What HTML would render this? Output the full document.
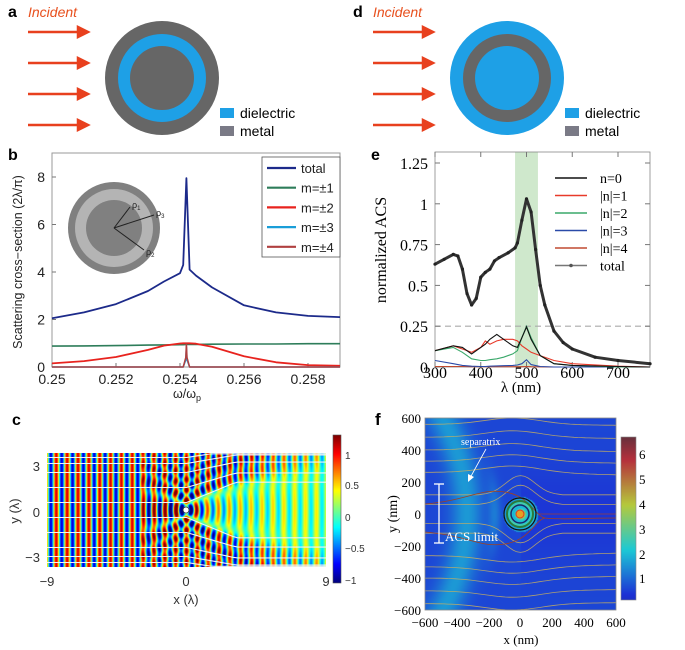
<!DOCTYPE html>
<html><head><meta charset="utf-8"><style>
html,body{margin:0;padding:0;background:#fff;}
#wrap{position:relative;width:685px;height:650px;overflow:hidden;}
canvas{position:absolute;}
svg{position:absolute;left:0;top:0;}
.s{font-family:"Liberation Sans",sans-serif;}
.r{font-family:"Liberation Serif",serif;}
</style></head><body>
<div id="wrap">
<canvas id="cc" width="279" height="114" style="left:47px;top:453px"></canvas>
<canvas id="ccb" width="8" height="148" style="left:333px;top:435px"></canvas>
<canvas id="cf" width="191" height="192" style="left:425px;top:418px"></canvas>
<canvas id="cfb" width="15" height="163" style="left:621px;top:437px"></canvas>
<svg id="sv" width="685" height="650" xmlns="http://www.w3.org/2000/svg">
<g>
<text x="8" y="17" class="s" font-size="16" font-weight="bold">a</text>
<text x="28" y="17" class="s" font-size="14" font-style="italic" fill="#e8501e">Incident</text>
<g fill="#e8401e" stroke="#e8401e" stroke-width="2.5">
<line x1="28" y1="32" x2="80" y2="32"/><polygon points="88,32 78,27 78,37"/>
<line x1="28" y1="63" x2="80" y2="63"/><polygon points="88,63 78,58 78,68"/>
<line x1="28" y1="94" x2="80" y2="94"/><polygon points="88,94 78,89 78,99"/>
<line x1="28" y1="125" x2="80" y2="125"/><polygon points="88,125 78,120 78,130"/>
</g>
<circle cx="162" cy="78" r="57" fill="#666"/>
<circle cx="162" cy="78" r="44" fill="#1ea0e6"/>
<circle cx="162" cy="78" r="32" fill="#666"/>
<rect x="220" y="108" width="14" height="10" fill="#1ea0e6"/>
<text x="240" y="118" class="s" font-size="14">dielectric</text>
<rect x="220" y="126" width="14" height="10" fill="#7a7a86"/>
<text x="240" y="136" class="s" font-size="14">metal</text>
</g>
<g>
<text x="353" y="17" class="s" font-size="16" font-weight="bold">d</text>
<text x="373" y="17" class="s" font-size="14" font-style="italic" fill="#e8501e">Incident</text>
<g fill="#e8401e" stroke="#e8401e" stroke-width="2.5">
<line x1="373" y1="32" x2="425" y2="32"/><polygon points="433,32 423,27 423,37"/>
<line x1="373" y1="63" x2="425" y2="63"/><polygon points="433,63 423,58 423,68"/>
<line x1="373" y1="94" x2="425" y2="94"/><polygon points="433,94 423,89 423,99"/>
<line x1="373" y1="125" x2="425" y2="125"/><polygon points="433,125 423,120 423,130"/>
</g>
<circle cx="507" cy="78" r="57" fill="#1ea0e6"/>
<circle cx="507" cy="78" r="44" fill="#666"/>
<circle cx="507" cy="78" r="32" fill="#1ea0e6"/>
<rect x="565" y="108" width="14" height="10" fill="#1ea0e6"/>
<text x="585" y="118" class="s" font-size="14">dielectric</text>
<rect x="565" y="126" width="14" height="10" fill="#7a7a86"/>
<text x="585" y="136" class="s" font-size="14">metal</text>
</g>
<g id="pb">
<text x="8" y="160" class="s" font-size="16" font-weight="bold">b</text>
<rect x="52" y="153" width="288" height="214" fill="none" stroke="#999"/>
<circle cx="114" cy="228" r="46" fill="#808080"/>
<circle cx="114" cy="228" r="39" fill="#b4b4b4"/>
<circle cx="114" cy="228" r="28" fill="#808080"/>
<g stroke="#222" stroke-width="1" fill="#222">
<line x1="114" y1="228" x2="130" y2="207"/><line x1="114" y1="228" x2="154" y2="215"/><line x1="114" y1="228" x2="144" y2="250"/>
</g>
<text x="132" y="208" class="s" font-size="9" fill="#222">ρ<tspan font-size="6" dy="2">1</tspan></text>
<text x="156" y="216" class="s" font-size="9" fill="#222">ρ<tspan font-size="6" dy="2">3</tspan></text>
<text x="146" y="255" class="s" font-size="9" fill="#222">ρ<tspan font-size="6" dy="2">2</tspan></text>
<text transform="translate(22,262) rotate(-90)" text-anchor="middle" class="s" font-size="12.5" fill="#222">Scattering cross−section (2λ/π)</text>
<text x="187" y="398" text-anchor="middle" class="s" font-size="12.5" fill="#222">ω/ω<tspan font-size="9" dy="3">p</tspan></text>
</g>
<g id="pe">
<text x="371" y="160" class="s" font-size="16" font-weight="bold">e</text>
<text transform="translate(386,250) rotate(-90)" text-anchor="middle" class="r" font-size="16">normalized ACS</text>
<text x="521" y="392" text-anchor="middle" class="r" font-size="15">λ (nm)</text>
</g>
<g id="pc">
<text x="12" y="425" class="s" font-size="16" font-weight="bold">c</text>
<text transform="translate(19,511) rotate(-90)" text-anchor="middle" class="s" font-size="13" fill="#333">y (λ)</text>
<text x="186" y="604" text-anchor="middle" class="s" font-size="13" fill="#333">x (λ)</text>
<g class="s" font-size="13" fill="#333" text-anchor="end">
<text x="40" y="471">3</text><text x="40" y="517">0</text><text x="40" y="562">−3</text></g>
<g class="s" font-size="13" fill="#333" text-anchor="middle">
<text x="47" y="586">−9</text><text x="186" y="586">0</text><text x="326" y="586">9</text></g>
<g class="s" font-size="10" fill="#333">
<text x="345" y="459">1</text><text x="345" y="489">0.5</text><text x="345" y="521">0</text><text x="345" y="552">−0.5</text><text x="345" y="584">−1</text></g>
<rect x="333" y="435" width="8" height="148" fill="none" stroke="#555" stroke-width="0.6"/>
<g id="slc" fill="none" stroke="#f4f4f4" stroke-width="1.1"></g>
<circle cx="186" cy="510" r="3" fill="#fff" stroke="#333" stroke-width="0.8"/>
</g>
<g id="pf">
<text x="375" y="425" class="s" font-size="17" font-weight="bold">f</text>
<g id="slf" fill="none" stroke="#c8b060" stroke-width="0.8" opacity="0.85"></g>
<path d="M425,504 C470,500 480,488 505,492 C530,496 535,516 545,518 C560,520 580,518 616,518" fill="none" stroke="#a04020" stroke-width="0.8"/>
<path d="M425,532 C470,536 480,548 505,544 C530,540 535,520 545,518" fill="none" stroke="#a04020" stroke-width="0.8"/>
<g fill="none">
<circle cx="520" cy="514" r="16" stroke="#111" stroke-width="1.2"/>
<circle cx="520" cy="514" r="13" stroke="#2a7a3a" stroke-width="2"/>
<circle cx="520" cy="514" r="9" stroke="#1a2a6a" stroke-width="1.5"/>
<circle cx="520" cy="514" r="4" fill="#e8a020" stroke="#e03a20"/>
</g>
<line x1="439" y1="484" x2="439" y2="543" stroke="#fff" stroke-width="1.3"/>
<line x1="434" y1="484" x2="444" y2="484" stroke="#fff" stroke-width="1.3"/>
<line x1="434" y1="543" x2="444" y2="543" stroke="#fff" stroke-width="1.3"/>
<text x="445" y="541" class="r" font-size="13" fill="#fff">ACS limit</text>
<text x="461" y="445" class="r" font-size="10" fill="#fff">separatrix</text>
<line x1="486" y1="449" x2="470" y2="478" stroke="#fff" stroke-width="0.8"/><polygon points="468,482 468,474 474,477" fill="#fff"/>
<rect x="425" y="418" width="191" height="192" fill="none" stroke="#888" stroke-width="0.8"/>
<g class="r" font-size="13" text-anchor="end">
<text x="421" y="423">600</text><text x="421" y="455">400</text><text x="421" y="487">200</text><text x="421" y="519">0</text><text x="421" y="551">−200</text><text x="421" y="583">−400</text><text x="421" y="615">−600</text></g>
<g class="r" font-size="13" text-anchor="middle">
<text x="425" y="627">−600</text><text x="457" y="627">−400</text><text x="489" y="627">−200</text><text x="520" y="627">0</text><text x="552" y="627">200</text><text x="584" y="627">400</text><text x="616" y="627">600</text></g>
<text transform="translate(397,514) rotate(-90)" text-anchor="middle" class="r" font-size="14">y (nm)</text>
<text x="521" y="644" text-anchor="middle" class="r" font-size="13">x (nm)</text>
<g class="r" font-size="13">
<text x="639" y="459">6</text><text x="639" y="484">5</text><text x="639" y="509">4</text><text x="639" y="534">3</text><text x="639" y="559">2</text><text x="639" y="583">1</text></g>
<rect x="621" y="437" width="15" height="163" fill="none" stroke="#888" stroke-width="0.6"/>
</g>
</svg>
</div>
<script>
// ---- panel b data ----
const bOmega=[0.25,0.251,0.252,0.253,0.2535,0.254,0.2541,0.2542,0.2543,0.2545,0.255,0.256,0.257,0.258,0.259];
const bTotal=[2.05,2.3,2.65,3.2,3.6,3.95,4.3,7.95,4.1,3.85,3.35,2.6,2.3,2.15,2.1];
const bM1=[0.88,0.89,0.9,0.92,0.93,0.94,0.94,0.95,0.95,0.95,0.96,0.97,0.97,0.98,0.98];
const bM2=[0.15,0.25,0.42,0.72,0.9,0.99,1.0,1.0,1.0,0.98,0.85,0.45,0.2,0.08,0.05];
const bM3Omega=[0.25,0.2541,0.25418,0.2542,0.25422,0.2543,0.259];
const bM3=[0,0,0.3,0.85,0.3,0,0];
const bM4=[0,0,0.4,0.98,0.4,0,0];
const bYTicks=[0,2,4,6,8];
const bXTicks=[0.25,0.252,0.254,0.256,0.258];
const bLegend=["total","m=±1","m=±2","m=±3","m=±4"];
// ---- panel e data ----
const eLam=[300,320,340,350,360,370,380,390,400,410,420,430,440,460,475,480,490,500,510,520,530,540,560,580,600,650,700,770];
const eTotal=[0.63,0.66,0.69,0.68,0.6,0.45,0.38,0.42,0.55,0.58,0.6,0.65,0.67,0.7,0.73,0.76,0.9,1.03,0.95,0.72,0.5,0.38,0.22,0.15,0.11,0.06,0.04,0.02];
const eLamN=[300,340,360,380,400,410,420,435,450,470,480,490,500,510,530,560,600,700,770];
const eN0=[0.1,0.13,0.12,0.08,0.12,0.14,0.17,0.2,0.17,0.13,0.12,0.18,0.245,0.17,0.07,0.02,0.01,0.003,0];
const eN1=[0.1,0.13,0.11,0.09,0.12,0.16,0.14,0.16,0.17,0.17,0.16,0.13,0.11,0.09,0.07,0.04,0.02,0.005,0];
const eN2=[0.1,0.12,0.09,0.05,0.04,0.04,0.045,0.05,0.06,0.08,0.1,0.18,0.25,0.18,0.07,0.02,0.01,0,0];
const eN3=[0.04,0.02,0.01,0.005,0.003,0.003,0.005,0.007,0.008,0.01,0.012,0.02,0.045,0.015,0.003,0,0,0,0];
const eN4=[0.003,0.003,0.003,0.002,0.002,0.002,0.002,0.002,0.002,0.002,0.002,0.002,0.003,0.002,0.001,0,0,0,0];
const eYTicks=[0,0.25,0.5,0.75,1,1.25];
const eYLabels=["0","0.25","0.5","0.75","1","1.25"];
const eXTicks=[300,400,500,600,700];
const eBand=[475,525];
const eLegend=["n=0","|n|=1","|n|=2","|n|=3","|n|=4","total"];

const NS="http://www.w3.org/2000/svg";
function mk(parent,tag,attrs,txt){const e=document.createElementNS(NS,tag);for(const k in attrs)e.setAttribute(k,attrs[k]);if(txt!==undefined)e.textContent=txt;parent.appendChild(e);return e;}
function pathOf(xs,ys,fx,fy){return xs.map((x,i)=>(i?"L":"M")+fx(x).toFixed(1)+","+fy(ys[i]).toFixed(1)).join(" ");}

const pb=document.getElementById('pb');
const bx=v=>52+(v-0.25)/0.009*288, by=v=>367-v*23.75;
bYTicks.forEach(t=>{const e=mk(pb,'text',{x:45,y:by(t)+5,'text-anchor':'end','font-size':14,'class':'s',fill:'#222'},String(t));


mk(pb,'line',{x1:52,x2:56,y1:by(t),y2:by(t),stroke:'#777'});});
bXTicks.forEach(t=>{const e=mk(pb,'text',{x:bx(t),y:384,'text-anchor':'middle','font-size':14,'class':'s',fill:'#222'},String(t));


mk(pb,'line',{x1:bx(t),x2:bx(t),y1:367,y2:363,stroke:'#777'});});
const bSeries=[[bOmega,bM1,'#2e7d5a',1.6,'m1-line'],[bOmega,bM2,'#e8231e',1.8,'m2-line'],[bM3Omega,bM3,'#1a9ed8',1.5,'m3-line'],[bM3Omega,bM4,'#b04040',1.5,'m4-line'],[bOmega,bTotal,'#1c2a8a',1.8,'total-line']];
bSeries.forEach(s=>{const p=mk(pb,'path',{d:pathOf(s[0],s[1],bx,by),fill:'none',stroke:s[2],'stroke-width':s[3],'stroke-linejoin':'round'});

});
mk(pb,'rect',{x:262,y:157,width:78,height:100,fill:'#fff',stroke:'#555','stroke-width':0.8});
const bLegCol=['#1c2a8a','#2e7d5a','#e8231e','#1a9ed8','#b04040'];
bLegend.forEach((l,i)=>{const y=168+i*19.7;mk(pb,'line',{x1:267,x2:296,y1:y,y2:y,stroke:bLegCol[i],'stroke-width':2.2});
const t=mk(pb,'text',{x:301,y:y+5,'font-size':13,'class':'s',fill:'#222'},l);

});

const pe=document.getElementById('pe');
const ex=v=>435+(v-300)*0.4575, ey=v=>367-v*163.2;
mk(pe,'rect',{x:ex(eBand[0]),y:152,width:ex(eBand[1])-ex(eBand[0]),height:215,fill:'#cfe8cc'});
mk(pe,'rect',{x:435,y:152,width:215,height:215,fill:'none',stroke:'#888','stroke-width':0.8});
mk(pe,'line',{x1:435,x2:650,y1:ey(0.25),y2:ey(0.25),stroke:'#aaa','stroke-dasharray':'6,4','stroke-width':1.2});
eYTicks.forEach((t,i)=>{const e=mk(pe,'text',{x:428,y:ey(t)+6,'text-anchor':'end','font-size':16,'class':'r'},eYLabels[i]);


mk(pe,'line',{x1:435,x2:440,y1:ey(t),y2:ey(t),stroke:'#777'});mk(pe,'line',{x1:645,x2:650,y1:ey(t),y2:ey(t),stroke:'#777'});});
eXTicks.forEach(t=>{const e=mk(pe,'text',{x:ex(t),y:378,'text-anchor':'middle','font-size':16,'class':'r'},String(t));


mk(pe,'line',{x1:ex(t),x2:ex(t),y1:367,y2:362,stroke:'#777'});mk(pe,'line',{x1:ex(t),x2:ex(t),y1:152,y2:157,stroke:'#777'});});
const eSer=[[eN4,'#c04a30','n4-line'],[eN3,'#2a4aa8','n3-line'],[eN1,'#e83a2a','n1-line'],[eN2,'#3aa86a','n2-line'],[eN0,'#111','n0-line']];
eSer.forEach(s=>{const p=mk(pe,'path',{d:pathOf(eLamN,s[0],ex,ey),fill:'none',stroke:s[1],'stroke-width':1.1});

});
const tp=mk(pe,'path',{d:pathOf(eLam,eTotal,ex,ey),fill:'none',stroke:'#333','stroke-width':3,'stroke-linejoin':'round'});


eLam.forEach((l,i)=>{const c=mk(pe,'circle',{cx:ex(l),cy:ey(eTotal[i]),r:1.6,fill:'#222'});

});
const eLegCol=['#111','#e83a2a','#3aa86a','#2a4aa8','#c04a30','#777'];
eLegend.forEach((l,i)=>{const y=178+i*17.5;mk(pe,'line',{x1:555,x2:587,y1:y,y2:y,stroke:eLegCol[i],'stroke-width':1.4});
if(i==5)mk(pe,'circle',{cx:571,cy:y,r:1.8,fill:'#555'});
const t=mk(pe,'text',{x:600,y:y+5,'font-size':14,'class':'r'},l);

});

function jet(v){v=Math.max(0,Math.min(1,v));const c=x=>Math.round(255*Math.max(0,Math.min(1,1.5-Math.abs(x))));return[c(4*v-3),c(4*v-2),c(4*v-1)];}
function soft(v){const c=jet(v);return [Math.round(0.6*c[0]+0.4*70),Math.round(0.6*c[1]+0.4*120),Math.round(0.6*c[2]+0.4*150)];}
(function(){const cv=document.getElementById('cc'),ctx=cv.getContext('2d'),W=279,H=114,img=ctx.createImageData(W,H);
const k=2*Math.PI/0.7;
for(let j=0;j<H;j++)for(let i=0;i<W;i++){const x=-9+18*(i+0.5)/W,y=3.8-7.6*(j+0.5)/H;const r=Math.sqrt(x*x+y*y)+0.01;
let sh=0;if(x>0){const w=0.6+0.45*x;sh=Math.exp(-Math.pow(y/w,4))*Math.min(1,x/1.2);}
const sc=0.8*Math.cos(k*r+0.4)/Math.sqrt(r+0.3)*Math.exp(-r/5)*(x>-3?1:0);
let f=Math.cos(k*x)*(1-0.7*sh)+sc;
const c=jet((f+1.2)/2.4);const p=(j*W+i)*4;img.data[p]=c[0];img.data[p+1]=c[1];img.data[p+2]=c[2];img.data[p+3]=255;}
ctx.putImageData(img,0,0);
const b=document.getElementById('ccb').getContext('2d');for(let j=0;j<148;j++){const c=jet(1-j/147);b.fillStyle=`rgb(${c})`;b.fillRect(0,j,8,1);}
const g=document.getElementById('slc');[-3.5,-3.1,-2.5,-1.5,-0.5,0.5,1.5,2.5,3.1,3.5].forEach(y0=>{let d='';for(let i=0;i<=60;i++){const x=-9+18*i/60;const defl=x>0?Math.sign(y0)*Math.min(1.6,0.5*x)*Math.exp(-Math.abs(y0)/3):0;const y=Math.max(-3.75,Math.min(3.75,y0+defl));d+=(i?'L':'M')+(47+279*(x+9)/18).toFixed(1)+','+(453+114*(3.8-y)/7.6).toFixed(1);}mk(g,'path',{d:d});});
})();
(function(){const cv=document.getElementById('cf'),ctx=cv.getContext('2d'),W=191,H=192,img=ctx.createImageData(W,H);
for(let j=0;j<H;j++)for(let i=0;i<W;i++){const x=-600+1200*i/W,y=600-1200*j/H;const r=Math.sqrt(x*x+y*y);
let v=0.6;const d=Math.sqrt((x+1605)*(x+1605)+y*y);v+=1.0*Math.exp(-Math.pow((d-1265)/100,2));
v+=0.6*Math.exp(-Math.pow((d-1440)/40,2))*Math.exp(-y*y/50000);
if(x>0)v-=0.2*Math.exp(-y*y/90000);
if(r<110)v=Math.max(v,1.5+4.5*Math.exp(-r*r/800)+1.2*Math.exp(-Math.pow((r-70)/15,2)));
const c=soft(0.08+0.92*v/6.8);const p=(j*W+i)*4;img.data[p]=c[0];img.data[p+1]=c[1];img.data[p+2]=c[2];img.data[p+3]=255;}
ctx.putImageData(img,0,0);
const b=document.getElementById('cfb').getContext('2d');for(let j=0;j<163;j++){const c=soft(0.1+0.9*(1-j/162));b.fillStyle=`rgb(${c})`;b.fillRect(0,j,15,1);}
const g=document.getElementById('slf');[-560,-480,-400,-330,-260,260,330,400,480,560].forEach(y0=>{let d='';for(let i=0;i<=50;i++){const x=-600+1200*i/50;const y=y0+Math.sign(y0)*40*Math.exp(-Math.pow((x+50)/250,2))-Math.sign(y0)*(x>0?0.06*x*Math.exp(-Math.abs(y0)/300):0);d+=(i?'L':'M')+(425+191*(x+600)/1200).toFixed(1)+','+(418+192*(600-y)/1200).toFixed(1);}mk(g,'path',{d:d});});
[-120,-60,60,120].forEach(y0=>{let d='';for(let i=0;i<=50;i++){const x=-600+1200*i/50;let y=y0;if(x>-250&&x<250)y=y0+Math.sign(y0)*120*Math.exp(-Math.pow(x/130,2));d+=(i?'L':'M')+(425+191*(x+600)/1200).toFixed(1)+','+(418+192*(600-y)/1200).toFixed(1);}mk(g,'path',{d:d});});
mk(g,'line',{x1:538,x2:616,y1:514,y2:514,stroke:'#b04020'});
})();
</script>
</body></html>
